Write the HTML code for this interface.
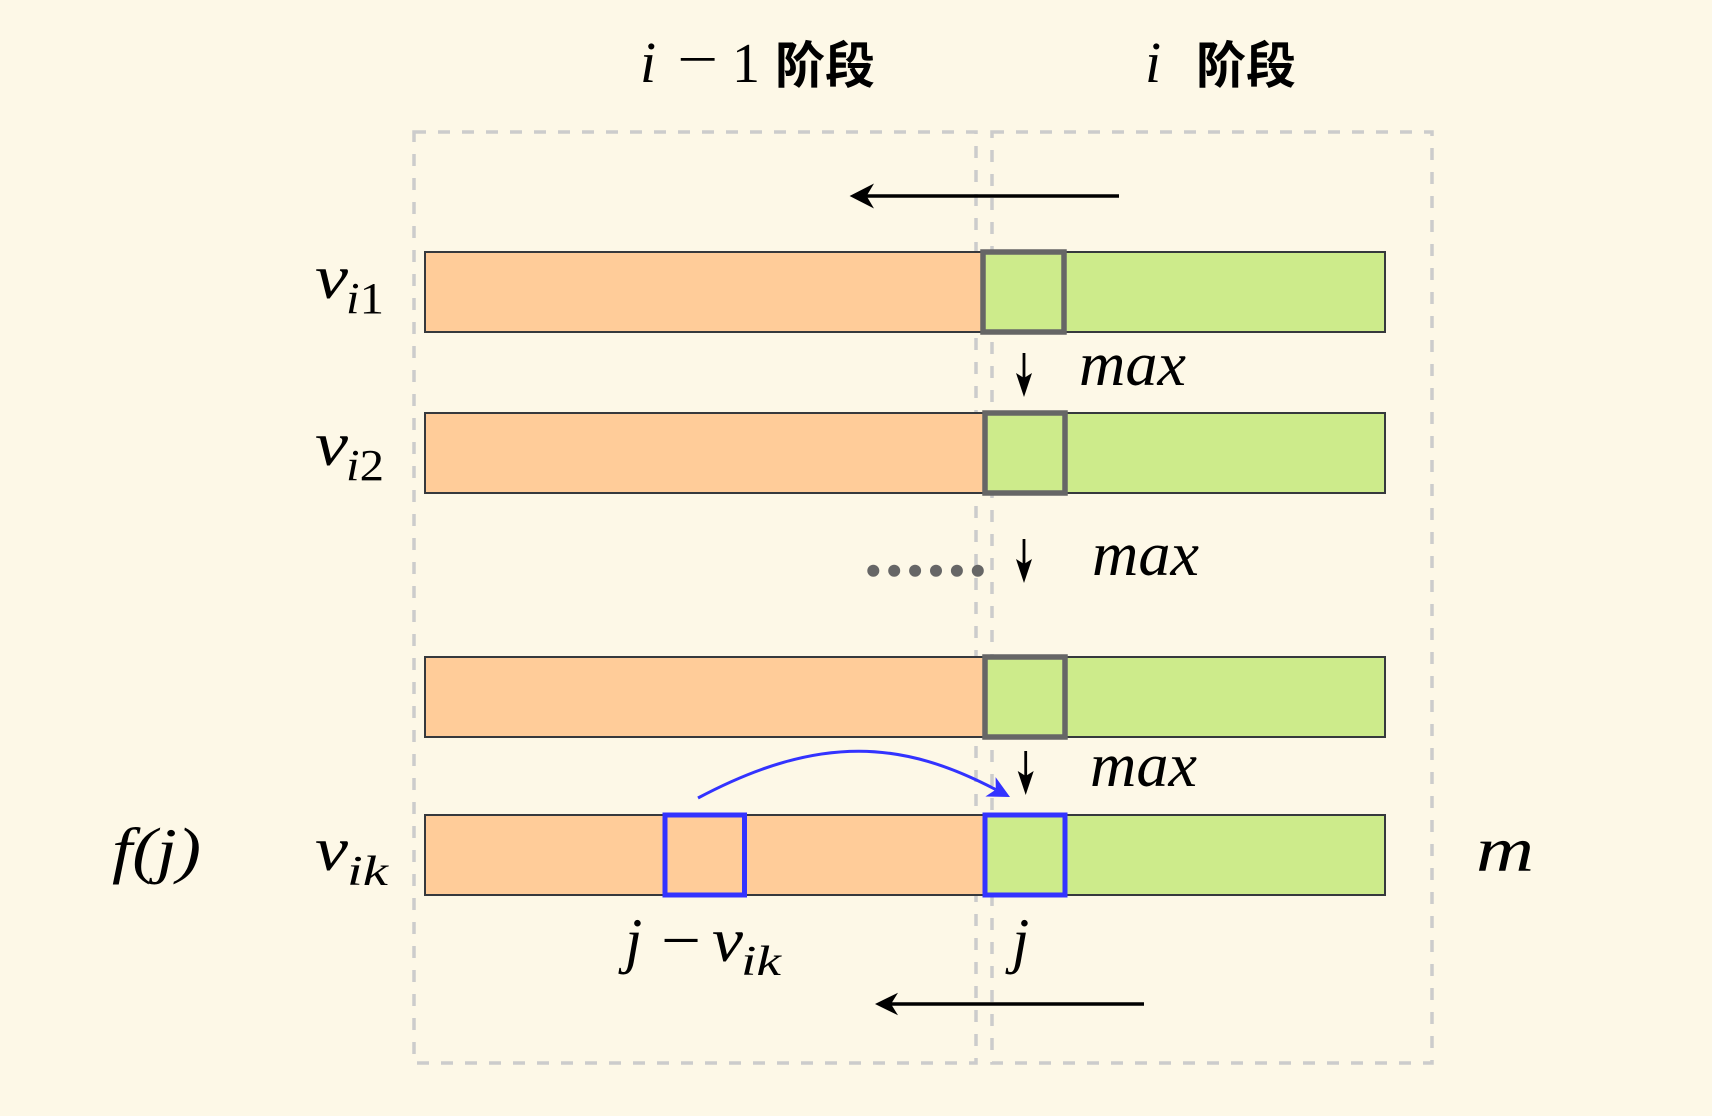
<!DOCTYPE html>
<html>
<head>
<meta charset="utf-8">
<style>
  html, body { margin: 0; padding: 0; background: #FDF8E7; }
  svg { display: block; }
  .m { font-family: "Liberation Serif", "DejaVu Serif", serif; font-style: italic; fill: #000; }
  .n { font-style: normal; }
  .cjk { font-family: "Liberation Sans", "Noto Sans CJK SC", sans-serif; font-weight: bold; fill: #000; }
</style>
</head>
<body>
<svg width="1712" height="1116" viewBox="0 0 1712 1116" xmlns="http://www.w3.org/2000/svg">
  <rect x="0" y="0" width="1712" height="1116" fill="#FDF8E7"/>

  <!-- Titles -->
  <text class="m" x="640" y="82" font-size="58">i</text>
  <text class="m n" x="677" y="78" font-size="56" textLength="41" lengthAdjust="spacingAndGlyphs">−</text>
  <text class="m n" x="732" y="82" font-size="56">1</text>
  <text class="cjk" x="775" y="83" font-size="50">阶段</text>

  <text class="m" x="1145" y="82" font-size="58">i</text>
  <text class="cjk" x="1196" y="83" font-size="50">阶段</text>

  <!-- Dashed stage boxes -->
  <rect x="414" y="132" width="562" height="931" fill="none" stroke="#CCCCCC" stroke-width="3.5" stroke-dasharray="12 12"/>
  <rect x="992" y="132" width="440" height="931" fill="none" stroke="#CCCCCC" stroke-width="3.5" stroke-dasharray="12 12"/>

  <!-- Top arrow -->
  <line x1="1119" y1="196" x2="864" y2="196" stroke="#000" stroke-width="3.5"/>
  <polygon points="849.6,196 874,183.5 866.6,196 874,208.5" fill="#000"/>

  <!-- Row 1 -->
  <rect x="425" y="252" width="558" height="80" fill="#FFCC99"/>
  <rect x="983" y="252" width="402" height="80" fill="#CDEB8B"/>
  <rect x="425" y="252" width="960" height="80" fill="none" stroke="#36393D" stroke-width="2"/>
  <rect x="983" y="252" width="81" height="80" fill="none" stroke="#666666" stroke-width="5.5"/>

  <!-- Arrow 1 + max -->
  <line x1="1024" y1="353" x2="1024" y2="385" stroke="#000" stroke-width="2.8"/>
  <polygon points="1024,397 1016,373 1024,378 1032,373" fill="#000"/>
  <text class="m" x="1079" y="385" font-size="62" textLength="107" lengthAdjust="spacingAndGlyphs">max</text>

  <!-- Row 2 -->
  <rect x="425" y="413" width="560" height="80" fill="#FFCC99"/>
  <rect x="985" y="413" width="400" height="80" fill="#CDEB8B"/>
  <rect x="425" y="413" width="960" height="80" fill="none" stroke="#36393D" stroke-width="2"/>
  <rect x="985" y="413" width="80" height="80" fill="none" stroke="#666666" stroke-width="5.5"/>

  <!-- Dots + Arrow 2 + max -->
  <g fill="#666666">
    <circle cx="873.3" cy="570.7" r="6"/>
    <circle cx="894.2" cy="570.7" r="6"/>
    <circle cx="915.1" cy="570.7" r="6"/>
    <circle cx="936" cy="570.7" r="6"/>
    <circle cx="956.9" cy="570.7" r="6"/>
    <circle cx="977.8" cy="570.7" r="6"/>
  </g>
  <line x1="1024" y1="539" x2="1024" y2="571" stroke="#000" stroke-width="2.8"/>
  <polygon points="1024,583 1016,559 1024,564 1032,559" fill="#000"/>
  <text class="m" x="1092" y="575" font-size="62" textLength="107" lengthAdjust="spacingAndGlyphs">max</text>

  <!-- Row 3 -->
  <rect x="425" y="657" width="560" height="80" fill="#FFCC99"/>
  <rect x="985" y="657" width="400" height="80" fill="#CDEB8B"/>
  <rect x="425" y="657" width="960" height="80" fill="none" stroke="#36393D" stroke-width="2"/>
  <rect x="985" y="657" width="80" height="80" fill="none" stroke="#666666" stroke-width="5.5"/>

  <!-- Arrow 3 + max -->
  <line x1="1025.7" y1="751" x2="1025.7" y2="783" stroke="#000" stroke-width="2.8"/>
  <polygon points="1025.7,795 1017.7,771 1025.7,776 1033.7,771" fill="#000"/>
  <text class="m" x="1090" y="786" font-size="62" textLength="107" lengthAdjust="spacingAndGlyphs">max</text>

  <!-- Row 4 -->
  <rect x="425" y="815" width="560" height="80" fill="#FFCC99"/>
  <rect x="985" y="815" width="400" height="80" fill="#CDEB8B"/>
  <rect x="425" y="815" width="960" height="80" fill="none" stroke="#36393D" stroke-width="2"/>
  <rect x="665" y="815" width="79.5" height="80" fill="none" stroke="#3333FF" stroke-width="5"/>
  <rect x="985" y="815" width="80" height="80" fill="none" stroke="#3333FF" stroke-width="5"/>

  <!-- Blue curved arrow -->
  <path d="M698,798 C822,732 905,742 995.8,789.6" fill="none" stroke="#3333FF" stroke-width="3"/>
  <polygon points="1010,797 985.4,796.5 995.8,789.6 995.6,777.1" fill="#3333FF"/>

  <!-- Left labels -->
  <text class="m" x="315" y="298" font-size="62" textLength="33" lengthAdjust="spacingAndGlyphs">v</text>
  <text class="m" x="346" y="313" font-size="44" textLength="38" lengthAdjust="spacingAndGlyphs">i<tspan class="n">1</tspan></text>

  <text class="m" x="315" y="465" font-size="62" textLength="33" lengthAdjust="spacingAndGlyphs">v</text>
  <text class="m" x="346" y="480" font-size="44" textLength="38" lengthAdjust="spacingAndGlyphs">i<tspan class="n">2</tspan></text>

  <text class="m" x="315" y="870" font-size="62" textLength="33" lengthAdjust="spacingAndGlyphs">v</text>
  <text class="m" x="347" y="885" font-size="42" textLength="41" lengthAdjust="spacingAndGlyphs">ik</text>

  <text class="m" x="112" y="871" font-size="62" textLength="89" lengthAdjust="spacingAndGlyphs">f(j)</text>

  <!-- Right label m -->
  <text class="m" x="1476" y="871" font-size="64" textLength="58" lengthAdjust="spacingAndGlyphs">m</text>

  <!-- Bottom labels -->
  <text class="m" x="625" y="961" font-size="62">j</text>
  <text class="m n" x="661" y="961" font-size="62" textLength="40" lengthAdjust="spacingAndGlyphs">−</text>
  <text class="m" x="712" y="961" font-size="62" textLength="31" lengthAdjust="spacingAndGlyphs">v</text>
  <text class="m" x="741" y="975" font-size="42" textLength="40" lengthAdjust="spacingAndGlyphs">ik</text>

  <text class="m" x="1012" y="961" font-size="62">j</text>

  <!-- Bottom arrow -->
  <line x1="1144" y1="1004" x2="889" y2="1004" stroke="#000" stroke-width="3.5"/>
  <polygon points="875,1004 898,992.7 891,1004 898,1015.3" fill="#000"/>
</svg>
</body>
</html>
